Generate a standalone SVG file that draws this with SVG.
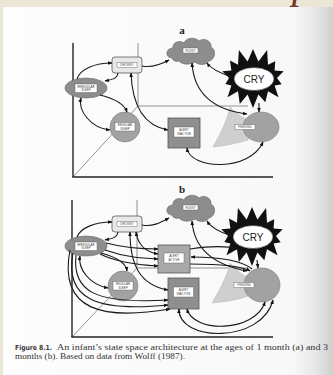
<svg xmlns="http://www.w3.org/2000/svg" width="333" height="375" viewBox="0 0 333 375">
<defs>
<linearGradient id="pageGrad" x1="0" y1="0" x2="1" y2="0">
<stop offset="0" stop-color="#fdfdfd"/>
<stop offset="0.88" stop-color="#f8f8f8"/>
<stop offset="0.95" stop-color="#e6e6e6"/>
<stop offset="1" stop-color="#cfcfcf"/>
</linearGradient>
<marker id="ah" viewBox="0 0 10 10" refX="9" refY="5" markerWidth="4.5" markerHeight="4.5" markerUnits="userSpaceOnUse" orient="auto-start-reverse">
<path d="M0,1 L10,5 L0,9 Z" fill="#111"/>
</marker>
<path id="cloud" d="M172,58 C165,58 165,48 173,48 C172,42 180,40 184,43 C186,37 196,37 199,41 C204,37 212,41 211,47 C217,50 215,60 209,61 C206,66 198,65 195,62 C190,65 182,65 179,61 C176,62 173,61 172,58 Z"/>
<polygon id="star" points="0,-29 5.4,-16.6 14.1,-27.9 15,-13.3 22.2,-16.8 21.6,-7.4 30.7,-6.7 24,0 28.7,6.2 21.6,7.4 25.5,19.3 15,13.3 12.3,24.3 5.4,16.6 0,30 -5.4,16.6 -13.2,26.1 -15,13.3 -25.5,19.3 -21.6,7.4 -27.6,6 -24,0 -30.7,-6.7 -21.6,-7.4 -23,-17.5 -15,-13.3 -14.1,-27.9 -5.4,-16.6"/>
</defs>
<style>
.axis{stroke:#222;stroke-width:1.4;fill:none}
.back{stroke:#666;stroke-width:0.7;fill:none}
.conn path{stroke:#1a1a1a;stroke-width:1.1;fill:none}
.ae{marker-end:url(#ah)}
.as{marker-start:url(#ah)}
.lbl{fill:#fff;stroke:#555;stroke-width:0.4}
.lt{font-family:"Liberation Sans",Arial,sans-serif;font-size:3px;fill:#444;text-anchor:middle}
.big{font-family:"Liberation Serif","Times New Roman",serif;font-weight:bold;font-size:11px;fill:#222;text-anchor:middle}
.cry{font-family:"Liberation Sans",Arial,sans-serif;font-size:10px;fill:#222;text-anchor:middle}
.dark{fill:#8d8d8d;stroke:#666;stroke-width:0.6}
.mid{fill:#a2a2a2;stroke:#777;stroke-width:0.6}
.light{fill:#e8e8e8;stroke:#444;stroke-width:0.7}
.sail{fill:#cfcfcf;stroke:#aaa;stroke-width:0.4}
.box{fill:#8f8f8f;stroke:#555;stroke-width:0.8}
.boxl{fill:#a9a9a9;stroke:#555;stroke-width:0.8}
.cap{font-family:"Liberation Serif","Times New Roman",serif;font-size:8.4px;fill:#333}
.capb{font-family:"DejaVu Sans","Liberation Sans",sans-serif;font-weight:bold;font-size:7px;fill:#3a3a3a}
</style>

<rect x="0" y="0" width="333" height="375" fill="#ece6d6"/>
<text x="292" y="-2" font-family="Liberation Serif,serif" font-style="italic" font-size="40" fill="#7b3526">p</text>
<rect x="3" y="7" width="330" height="368" fill="url(#pageGrad)"/>

<!-- Panel a -->
<text class="big" x="182" y="34">a</text>
<g id="axes-a">
<line class="back" x1="138" y1="43" x2="138" y2="106"/>
<line class="back" x1="138" y1="106" x2="248" y2="106"/>
<line class="back" x1="73" y1="177" x2="138" y2="106"/>
<line class="axis" x1="73" y1="43" x2="73" y2="177"/>
<line class="axis" x1="72.3" y1="177" x2="273" y2="177"/>
</g>

<g id="a-sail"><path class="sail" d="M230,107 C227,122 219,136 213,147 C225,146 238,143 248,140 L252,122 C245,119 236,114 230,107 Z"/></g>

<g id="a-fussy"><use href="#cloud" class="dark"/><rect class="lbl" x="183" y="48" width="15" height="5"/><text class="lt" x="190.5" y="51.6">FUSSY</text></g>
<g id="a-cry"><use href="#star" x="253" y="78" fill="#111"/><ellipse cx="254" cy="79" rx="20" ry="11.5" fill="#fff" stroke="#333" stroke-width="0.6"/><text class="cry" x="254" y="83">CRY</text></g>
<g id="a-drowsy"><rect class="light" x="112" y="57" width="30" height="16" rx="3"/><rect class="lbl" x="117" y="62.5" width="20" height="5"/><text class="lt" x="127" y="66">DROWSY</text></g>
<g id="a-irregular"><ellipse class="dark" cx="86" cy="88" rx="21" ry="10"/><rect class="lbl" x="75" y="84" width="22" height="8.5"/><text class="lt" x="86" y="87.5">IRREGULAR</text><text class="lt" x="86" y="91">SLEEP</text></g>
<g id="a-regular"><circle class="mid" cx="125" cy="127" r="15"/><rect class="lbl" x="115" y="122.5" width="20" height="8.5"/><text class="lt" x="125" y="126">REGULAR</text><text class="lt" x="125" y="129.5">SLEEP</text></g>
<g id="a-alert-inactive"><rect class="box" x="168" y="118" width="32" height="30"/><rect class="lbl" x="174" y="127" width="20" height="10"/><text class="lt" x="184" y="131">ALERT</text><text class="lt" x="184" y="134.5">INACTIVE</text></g>
<g id="a-feeding"><ellipse class="mid" cx="261" cy="127" rx="18" ry="15"/><rect class="lbl" x="235" y="124.5" width="20" height="5"/><text class="lt" x="245" y="128">FEEDING</text></g>

<g id="a-connectors" class="conn">
<path class="ae" d="M142,66 C152,68 160,65 169,60"/>
<path class="ae" d="M77,79 C80,69 95,63 112,63"/>
<path class="ae" d="M118,73 C117,79 111,80 105,81"/>
<path class="ae" d="M100,95 C112,98 124,103 127,112"/>
<path class="as ae" d="M81,98 C78,110 90,128 110,130"/>
<path class="as ae" d="M131,73 C132,100 140,125 168,130"/>
<path class="as ae" d="M192,63 C194,95 215,110 247,114"/>
<path class="ae" d="M233,77 C222,74 212,70 207,63"/>
<path class="ae" d="M259,103 L259,112"/>
<path class="as ae" d="M187,148 C190,170 250,172 263,142"/>
</g>

<!-- Panel b -->
<text class="big" x="182" y="193">b</text>
<g id="axes-b">
<line class="back" x1="137" y1="200" x2="137" y2="268"/>
<line class="back" x1="137" y1="268" x2="248" y2="268"/>
<line class="back" x1="72" y1="337" x2="137" y2="268"/>
<line class="axis" x1="72" y1="200" x2="72" y2="337"/>
<line class="axis" x1="71.3" y1="337" x2="273" y2="337"/>
</g>

<g id="b-sail"><path class="sail" d="M230,263 C227,278 218,292 212,303 C224,302 238,300 248,296 L252,280 C245,276 236,271 230,263 Z"/></g>

<g id="b-fussy"><use href="#cloud" y="157" class="dark"/><rect class="lbl" x="183" y="205" width="15" height="5"/><text class="lt" x="190.5" y="208.6">FUSSY</text></g>
<g id="b-cry"><use href="#star" x="252" y="236" fill="#111"/><ellipse cx="253" cy="237" rx="20" ry="11.5" fill="#fff" stroke="#333" stroke-width="0.6"/><text class="cry" x="253" y="241">CRY</text></g>
<g id="b-drowsy"><rect class="light" x="112" y="216" width="30" height="16" rx="3"/><rect class="lbl" x="117" y="221.5" width="20" height="5"/><text class="lt" x="127" y="225">DROWSY</text></g>
<g id="b-irregular"><ellipse class="dark" cx="86" cy="246" rx="21" ry="10"/><rect class="lbl" x="75" y="242" width="22" height="8.5"/><text class="lt" x="86" y="245.5">IRREGULAR</text><text class="lt" x="86" y="249">SLEEP</text></g>
<g id="b-alert-active"><rect class="boxl" x="158" y="245" width="32" height="28"/><rect class="lbl" x="164" y="253" width="20" height="10"/><text class="lt" x="174" y="257">ALERT</text><text class="lt" x="174" y="260.5">ACTIVE</text></g>
<g id="b-regular"><circle class="mid" cx="123" cy="286" r="15"/><rect class="lbl" x="113" y="281.5" width="20" height="8.5"/><text class="lt" x="123" y="285">REGULAR</text><text class="lt" x="123" y="288.5">SLEEP</text></g>
<g id="b-alert-inactive"><rect class="box" x="168" y="278" width="31" height="31"/><rect class="lbl" x="173.5" y="287" width="20" height="10"/><text class="lt" x="183.5" y="291">ALERT</text><text class="lt" x="183.5" y="294.5">INACTIVE</text></g>
<g id="b-feeding"><ellipse class="mid" cx="262" cy="285" rx="18" ry="17"/><rect class="lbl" x="234" y="282.5" width="20" height="5"/><text class="lt" x="244" y="286">FEEDING</text></g>

<g id="b-connectors" class="conn">
<path class="ae" d="M142,225 C152,227 160,223 169,218"/>
<path class="ae" d="M77,237 C80,228 95,222 112,222"/>
<path class="ae" d="M118,232 C117,238 111,239 105,240"/>
<path class="as ae" d="M130,232 C130,265 140,285 168,290"/>
<path class="as ae" d="M136,232 C138,245 145,252 158,254"/>
<path class="ae" d="M106,243 C125,248 140,249 158,249"/>
<path class="ae" d="M105,250 C125,257 140,258 158,259"/>
<path class="ae" d="M100,254 C118,263 140,265 158,266"/>
<path class="ae" d="M101,253 C116,257 126,262 127,271"/>
<path class="as ae" d="M80,256 C78,268 88,284 108,288"/>
<path class="ae" d="M76,255 C72,292 95,304 168,300"/>
<path class="ae" d="M73,253 C64,300 98,312 168,305"/>
<path class="ae" d="M70,250 C58,312 105,320 170,309"/>
<path class="ae" d="M190,249 C210,246 228,246 238,249"/>
<path class="ae" d="M252,269 C240,259 215,257 191,257"/>
<path class="ae" d="M190,264 C215,264 240,265 250,271"/>
<path class="as ae" d="M192,221 C194,250 215,265 247,271"/>
<path class="ae" d="M232,236 C222,233 212,229 207,221"/>
<path class="ae" d="M257,260 L258,268"/>
<path class="as ae" d="M179,309 C178,342 262,344 273,300"/>
<path class="as ae" d="M187,309 C193,333 255,333 265,302"/>
</g>

<g id="caption">
<text class="capb" x="15" y="350" textLength="37" lengthAdjust="spacingAndGlyphs">Figure 8.1.</text>
<text class="cap" x="57" y="350" textLength="271" lengthAdjust="spacingAndGlyphs">An infant’s state space architecture at the ages of 1 month (a) and 3</text>
<text class="cap" x="15" y="359" textLength="170" lengthAdjust="spacingAndGlyphs">months (b). Based on data from Wolff (1987).</text>
</g>
</svg>
